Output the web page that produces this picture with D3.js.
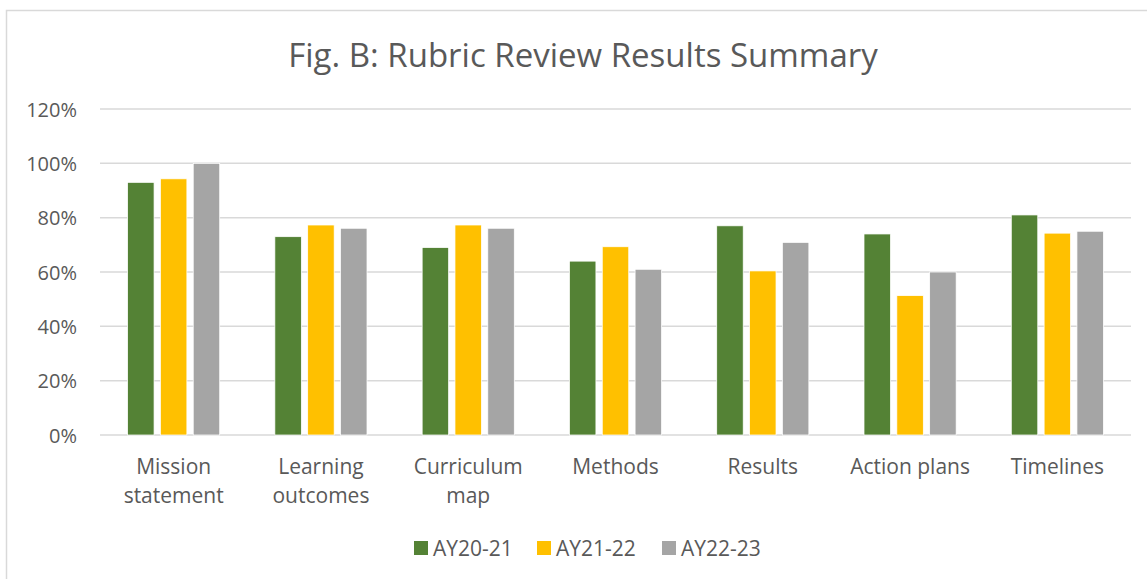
<!DOCTYPE html>
<html>
<head>
<meta charset="utf-8">
<script src="https://cdn.jsdelivr.net/npm/d3@7"></script>
<style>
  body { margin: 0; background: #fff; }
  text { font-family: "Open Sans", sans-serif; fill: #595959; }
</style>
</head>
<body>
<div id="chart"></div>
<script>
var categories = ["Mission statement", "Learning outcomes", "Curriculum map", "Methods", "Results", "Action plans", "Timelines"];
var seriesNames = ["AY20-21", "AY21-22", "AY22-23"];
var ay2021 = [0.93, 0.73, 0.69, 0.64, 0.77, 0.74, 0.81];
var ay2122 = [0.943, 0.773, 0.773, 0.693, 0.604, 0.513, 0.743];
var ay2223 = [1.00, 0.761, 0.761, 0.61, 0.709, 0.60, 0.75];
var yTicks = [0, 0.2, 0.4, 0.6, 0.8, 1.0, 1.2];
var colors = ["#548235", "#FFC000", "#A5A5A5"];

var width = 1147, height = 579;
var plotLeft = 100, plotRight = 1131, plotTop = 109, plotBottom = 435;

var svg = d3.select("#chart").append("svg")
    .attr("width", width)
    .attr("height", height);

// chart area border (runs off the right and bottom of the picture)
svg.append("rect")
    .attr("x", 6.5).attr("y", 10.5)
    .attr("width", 1160).attr("height", 600)
    .attr("fill", "#fff")
    .attr("stroke", "#d9d9d9")
    .attr("stroke-width", 1.5);

var title = svg.append("text")
    .attr("x", 583).attr("y", 67)
    .attr("text-anchor", "middle")
    .style("font-size", "33px")
    .text("Fig. B: Rubric Review Results Summary");

var y = d3.scaleLinear().domain([0, 1.2]).range([plotBottom, plotTop]);
var x0 = d3.scaleBand().domain(categories).range([plotLeft, plotRight]).padding(0);
var x1 = d3.scaleBand().domain(seriesNames).range([0, x0.bandwidth()])
    .paddingInner(0.193).paddingOuter(0.84);

// gridlines
svg.append("g").selectAll("line.grid")
    .data(yTicks).enter().append("line")
    .attr("class", "grid")
    .attr("x1", plotLeft).attr("x2", plotRight)
    .attr("y1", function(d){ return y(d); })
    .attr("y2", function(d){ return y(d); })
    .attr("stroke", "#d9d9d9")
    .attr("stroke-width", 1.5);

// y axis labels
var yAxis = d3.axisLeft(y).tickValues(yTicks).tickSize(0).tickPadding(0)
    .tickFormat(d3.format(".0%"));
var gy = svg.append("g").attr("transform", "translate(77,0)").call(yAxis);
gy.select(".domain").remove();
gy.selectAll("text")
    .attr("dy", "0.35em")
    .style("font-size", "20px")
    .style("font-family", "'Open Sans', sans-serif")
    .style("fill", "#595959");

// bars
var rows = categories.map(function(c, i){
    return {cat: c, vals: [ay2021[i], ay2122[i], ay2223[i]]};
});

var groups = svg.selectAll("g.cat")
    .data(rows).enter().append("g")
    .attr("class", "cat")
    .attr("transform", function(d){ return "translate(" + x0(d.cat) + ",0)"; });

groups.selectAll("rect")
    .data(function(d){ return d.vals.map(function(v, j){ return {name: seriesNames[j], v: v, j: j}; }); })
    .enter().append("rect")
    .attr("x", function(d){ return x1(d.name); })
    .attr("width", x1.bandwidth())
    .attr("y", function(d){ return y(d.v); })
    .attr("height", function(d){ return y(0) - y(d.v); })
    .attr("fill", function(d){ return colors[d.j]; })
    .attr("stroke", "#fff")
    .attr("stroke-width", 0.75);

// category labels, wrapped like the original
var xAxis = d3.axisBottom(x0).tickSize(0).tickPadding(0);
var gx = svg.append("g").attr("transform", "translate(0," + 474 + ")").call(xAxis);
gx.select(".domain").remove();
gx.selectAll("text")
    .attr("dy", 0)
    .attr("y", 0)
    .style("font-size", "21px")
    .style("font-family", "'Open Sans', sans-serif")
    .style("fill", "#595959")
    .each(function(){
        var t = d3.select(this);
        var words = t.text().split(" ");
        if (this.getComputedTextLength() > 130 && words.length > 1) {
            t.text(null);
            t.append("tspan").attr("x", 0).attr("dy", 0).text(words[0]);
            t.append("tspan").attr("x", 0).attr("dy", 29).text(words.slice(1).join(" "));
        }
    });

// legend
var legendX = [414, 537, 662];
var legend = svg.selectAll("g.legend")
    .data(seriesNames).enter().append("g")
    .attr("class", "legend")
    .attr("transform", function(d, i){ return "translate(" + legendX[i] + ",541)"; });
legend.append("rect")
    .attr("width", 14).attr("height", 14)
    .attr("fill", function(d, i){ return colors[i]; });
legend.append("text")
    .attr("x", 19).attr("y", 14.5)
    .style("font-size", "21px")
    .text(function(d){ return d; });
</script>
</body>
</html>
